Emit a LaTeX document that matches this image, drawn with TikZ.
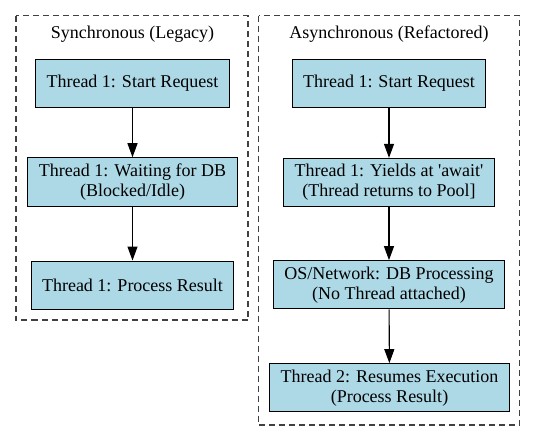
\documentclass[tikz,border=0pt]{standalone}
\usepackage{fontspec}
\setmainfont{Liberation Serif}
\usetikzlibrary{arrows.meta}
\definecolor{boxblue}{HTML}{ADD8E6}
\definecolor{clustergray}{HTML}{404040}
\begin{document}
\begin{tikzpicture}[x=1pt, y=-1pt,
        stepbox/.style={draw=black, fill=boxblue, line width=1pt, align=center,
            inner xsep=11pt, inner ysep=6pt, minimum height=48pt,
            font=\rmfamily\fontsize{18}{20}\selectfont},
        cluster/.style={draw=clustergray, line width=1.3pt, dash pattern=on 6pt off 4pt},
        title/.style={font=\rmfamily\fontsize{18}{20}\selectfont},
        flow/.style={-{Triangle[length=14pt, width=10pt]}, line width=1.1pt}]
        \useasboundingbox[fill=white] (0,0) rectangle (536,442);
        % clusters
        \draw[cluster] (16,15.5) rectangle (248,320);
        \draw[cluster] (258.5,15.5) rectangle (519.5,425);
        \node[title] (synctitle) at (132.5,34) {Synchronous (Legacy)};
        \node[title] (asynctitle) at (389,34) {Asynchronous (Refactored)};
        % synchronous
        \node[stepbox] (sstart) at (132.5,83.3) {Thread 1: Start Request};
        \node[stepbox] (swait) at (132.5,182) {Thread 1: Waiting for DB\\(Blocked/Idle)};
        \node[stepbox] (sresult) at (132.5,285) {Thread 1: Process Result};
        % asynchronous
        \node[stepbox] (astart) at (389,83.3) {Thread 1: Start Request};
        \node[stepbox] (ayield) at (389,182.5) {Thread 1: Yields at \textquotesingle await\textquotesingle\\(Thread returns to Pool]};
        \node[stepbox] (adb) at (389,284.8) {OS/Network: DB Processing\\(No Thread attached)};
        \node[stepbox] (aresume) at (389.5,387.8) {Thread 2: Resumes Execution\\(Process Result)};
        \draw[flow] (sstart) -- (swait);
        \draw[flow] (swait) -- (sresult);
        \draw[flow] (astart) -- (ayield);
        \draw[flow] (ayield) -- (adb);
        \draw[flow] (adb) -- (aresume);
    \end{tikzpicture}
\end{document}
